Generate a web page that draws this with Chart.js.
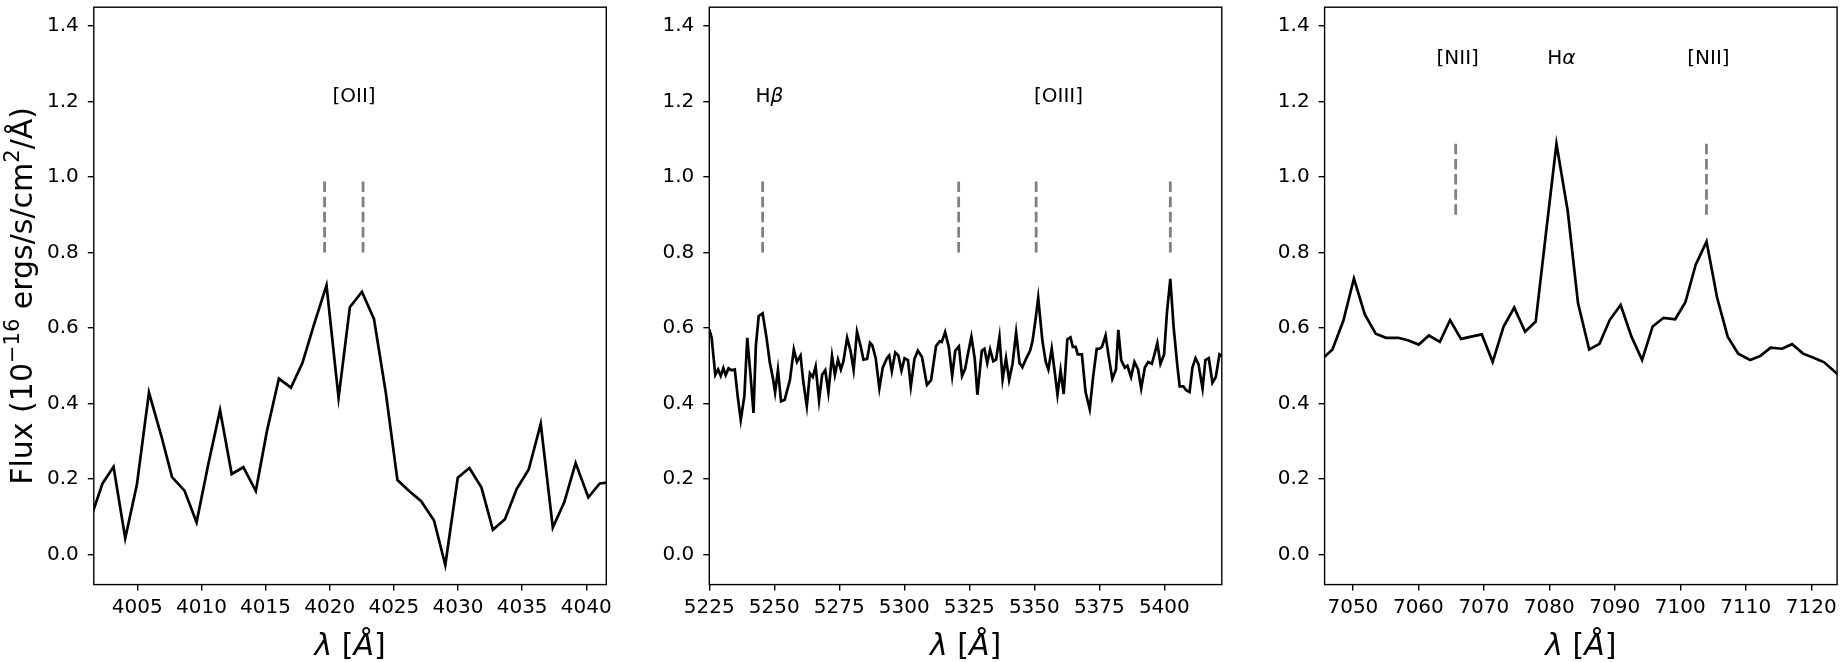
<!DOCTYPE html>
<html>
<head>
<meta charset="utf-8">
<script src="https://cdn.jsdelivr.net/npm/chart.js@4.4.1/dist/chart.umd.min.js"></script>
<style>
  html, body { margin: 0; padding: 0; background: #fff; overflow: hidden; }
  body { width: 1845px; height: 662px; position: relative; }
  canvas { position: absolute; top: -20px; }
</style>
</head>
<body>
<canvas id="c1" width="620" height="682" style="left:0px"></canvas>
<canvas id="c2" width="620" height="682" style="left:615px"></canvas>
<canvas id="c3" width="620" height="682" style="left:1230px"></canvas>
<script>
// ------------------- DATA -------------------
// [OII] region
const lamOII = [4001.37, 4002.29, 4003.15, 4004.06, 4004.97, 4005.91, 4006.85, 4007.71, 4008.68, 4009.62,
  4010.53, 4011.45, 4012.36, 4013.27, 4014.24, 4015.10, 4016.04, 4016.98, 4017.87, 4018.81,
  4019.75, 4020.69, 4021.57, 4022.51, 4023.45, 4024.37, 4025.28, 4026.19, 4027.13, 4028.13,
  4029.01, 4029.98, 4030.89, 4031.83, 4032.72, 4033.66, 4034.57, 4035.51, 4036.45, 4037.39,
  4038.28, 4039.17, 4040.16, 4041.05, 4041.97];
const fluxOII = [0.096, 0.188, 0.232, 0.043, 0.185, 0.429, 0.317, 0.205, 0.169, 0.085,
  0.238, 0.382, 0.213, 0.231, 0.168, 0.326, 0.466, 0.442, 0.507, 0.613,
  0.713, 0.415, 0.655, 0.696, 0.624, 0.429, 0.197, 0.168, 0.141, 0.090,
  -0.028, 0.203, 0.229, 0.177, 0.065, 0.093, 0.173, 0.225, 0.346, 0.071,
  0.138, 0.242, 0.151, 0.188, 0.192];

// H-beta / [OIII] region
const lamHb = [5225.0, 5225.9, 5227.3, 5228.4, 5229.4, 5230.4, 5231.3, 5232.4, 5233.5, 5234.8,
  5235.9, 5237.1, 5238.5, 5239.6, 5240.8, 5242.0, 5242.9, 5244.0, 5245.5, 5247.0,
  5248.3, 5249.4, 5250.3, 5251.4, 5252.6, 5254.0, 5256.0, 5257.5, 5258.7, 5260.1,
  5261.1, 5262.5, 5263.7, 5264.8, 5265.9, 5267.2, 5268.4, 5269.6, 5270.8, 5272.2,
  5273.3, 5274.5, 5275.6, 5276.6, 5278.0, 5279.3, 5280.5, 5281.8, 5283.2, 5284.3,
  5285.7, 5286.8, 5287.7, 5289.0, 5290.4, 5291.7, 5293.4, 5294.2, 5295.2, 5296.5,
  5297.7, 5298.9, 5300.1, 5301.4, 5302.5, 5303.9, 5305.2, 5306.8, 5308.7, 5310.3,
  5312.2, 5313.6, 5314.4, 5315.7, 5317.1, 5318.4, 5319.6, 5321.0, 5322.2, 5323.4,
  5324.4, 5325.8, 5327.1, 5328.1, 5329.8, 5330.8, 5331.9, 5333.0, 5334.2, 5335.3,
  5336.6, 5337.8, 5339.1, 5340.3, 5341.6, 5343.0, 5344.3, 5345.4, 5347.0, 5348.4,
  5349.3, 5350.4, 5351.5, 5353.1, 5354.4, 5355.4, 5356.7, 5358.0, 5358.9, 5360.1,
  5361.3, 5362.7, 5363.9, 5364.8, 5365.9, 5366.7, 5368.3, 5369.7, 5371.3, 5372.6,
  5374.0, 5375.1, 5376.0, 5377.4, 5378.7, 5380.0, 5381.4, 5382.3, 5383.4, 5384.8,
  5385.8, 5387.2, 5388.5, 5389.9, 5391.1, 5392.5, 5393.8, 5395.2, 5396.2, 5397.3,
  5398.5, 5399.9, 5401.0, 5402.3, 5403.6, 5405.0, 5405.9, 5407.3, 5408.4, 5409.7,
  5410.8, 5412.0, 5413.1, 5414.7, 5415.8, 5417.1, 5418.5, 5419.8, 5421.2, 5422.1];
const fluxHb = [0.596, 0.574, 0.476, 0.490, 0.473, 0.494, 0.475, 0.493, 0.488, 0.490,
  0.420, 0.356, 0.420, 0.574, 0.480, 0.375, 0.552, 0.632, 0.639, 0.574,
  0.507, 0.470, 0.429, 0.489, 0.406, 0.410, 0.462, 0.543, 0.510, 0.527,
  0.460, 0.393, 0.480, 0.470, 0.498, 0.408, 0.476, 0.488, 0.429, 0.526,
  0.476, 0.516, 0.490, 0.512, 0.574, 0.540, 0.489, 0.590, 0.552, 0.516,
  0.518, 0.561, 0.554, 0.520, 0.440, 0.495, 0.521, 0.527, 0.485, 0.535,
  0.527, 0.487, 0.520, 0.515, 0.445, 0.518, 0.540, 0.523, 0.449, 0.462,
  0.552, 0.565, 0.563, 0.589, 0.550, 0.473, 0.540, 0.551, 0.473, 0.492,
  0.529, 0.577, 0.518, 0.423, 0.540, 0.545, 0.507, 0.543, 0.512, 0.516,
  0.576, 0.464, 0.520, 0.462, 0.504, 0.588, 0.507, 0.496, 0.521, 0.540,
  0.565, 0.619, 0.680, 0.566, 0.510, 0.490, 0.545, 0.475, 0.423, 0.487,
  0.425, 0.570, 0.575, 0.550, 0.550, 0.530, 0.530, 0.430, 0.385, 0.470,
  0.545, 0.545, 0.550, 0.580, 0.520, 0.465, 0.490, 0.595, 0.515, 0.495,
  0.500, 0.470, 0.510, 0.490, 0.440, 0.495, 0.510, 0.505, 0.530, 0.560,
  0.505, 0.530, 0.640, 0.730, 0.600, 0.500, 0.445, 0.445, 0.435, 0.430,
  0.495, 0.520, 0.505, 0.440, 0.515, 0.520, 0.455, 0.470, 0.530, 0.525];

// H-alpha / [NII] region
const lamHa = [7045.25, 7046.88, 7048.54, 7050.16, 7051.82, 7053.49, 7055.05, 7056.93, 7058.49, 7060.05,
  7061.61, 7063.28, 7064.84, 7066.51, 7068.07, 7069.69, 7071.35, 7073.02, 7074.64, 7076.30,
  7077.92, 7079.58, 7081.09, 7082.81, 7084.38, 7086.09, 7087.66, 7089.22, 7090.89, 7092.55,
  7094.17, 7095.78, 7097.45, 7099.22, 7100.78, 7102.34, 7104.01, 7105.63, 7107.24, 7108.85,
  7110.68, 7112.24, 7113.80, 7115.52, 7117.08, 7118.75, 7120.36, 7121.98, 7124.20];
const fluxHa = [0.517, 0.543, 0.619, 0.731, 0.636, 0.585, 0.574, 0.574, 0.567, 0.556,
  0.580, 0.563, 0.621, 0.571, 0.577, 0.583, 0.510, 0.604, 0.654, 0.590,
  0.617, 0.865, 1.088, 0.910, 0.666, 0.543, 0.558, 0.621, 0.661, 0.577,
  0.515, 0.604, 0.627, 0.623, 0.668, 0.767, 0.829, 0.680, 0.577, 0.532,
  0.515, 0.526, 0.548, 0.545, 0.557, 0.532, 0.521, 0.509, 0.475];

const yTicks = [0.0, 0.2, 0.4, 0.6, 0.8, 1.0, 1.2, 1.4];
const xTicks1 = [4005, 4010, 4015, 4020, 4025, 4030, 4035, 4040];
const xTicks2 = [5225, 5250, 5275, 5300, 5325, 5350, 5375, 5400];
const xTicks3 = [7050, 7060, 7070, 7080, 7090, 7100, 7110, 7120];

// line markers (dashed) and line names
const markers1 = [4019.6, 4022.6];
const markers2 = [5245.5, 5320.9, 5350.7, 5402.3];
const markers3 = [7065.7, 7104.0];
const names1 = ['[OII]'];
const namePos1 = [4021.9];
const names2 = ['Hβ', '[OIII]'];
const namePos2 = [5248.1, 5359.3];
const names3 = ['[NII]', 'Hα', '[NII]'];
const namePos3 = [7066.0, 7081.85, 7104.3];


// ------------------- PLUGINS -------------------
const FONT = "'DejaVu Sans', sans-serif";

// draw a run of text pieces: [text, italic?, sizeFactor, rise]
function drawRuns(ctx, runs, size, x, y) {
    runs.forEach(r => {
        r.font = (r[1] ? 'italic ' : '') + (size * r[2]) + 'px ' + FONT;
        ctx.font = r.font;
        r.w = ctx.measureText(r[0]).width;
    });
    const total = runs.reduce((s, r) => s + r.w, 0);
    let cx = x - total / 2;
    runs.forEach(r => {
        ctx.font = r.font;
        ctx.fillText(r[0], cx, y - r[3] * size);
        cx += r.w;
    });
}

const framePlugin = {
    id: 'frame',
    afterDraw(chart, args, opts) {
        const a = chart.chartArea;
        const ctx = chart.ctx;
        ctx.save();
        ctx.strokeStyle = '#000';
        ctx.lineWidth = 1.4;
        ctx.strokeRect(a.left, a.top, a.right - a.left, a.bottom - a.top);

        // axis titles (mathtext-like)
        ctx.fillStyle = '#000';
        ctx.textAlign = 'left';
        ctx.textBaseline = 'alphabetic';
        drawRuns(ctx, [['λ', true, 1, 0], [' [', false, 1, 0], ['Å', true, 1, 0], [']', false, 1, 0]],
            30, (a.left + a.right) / 2, 674.5);
        if (opts.yTitle) {
            ctx.translate(31.5, (a.top + a.bottom) / 2);
            ctx.rotate(-Math.PI / 2);
            drawRuns(ctx, [
                ['Flux (10', false, 1, 0], ['−16', false, 0.7, 0.42], [' ergs/s/cm', false, 1, 0],
                ['2', false, 0.7, 0.42], ['/Å)', false, 1, 0]
            ], 30, 0, 0);
        }
        ctx.restore();
    }
};

const namesPlugin = {
    id: 'lineNames',
    afterDatasetsDraw(chart, args, opts) {
        const ctx = chart.ctx;
        const xs = chart.scales.x, ys = chart.scales.y;
        ctx.save();
        ctx.fillStyle = '#000';
        ctx.textAlign = 'left';
        ctx.textBaseline = 'alphabetic';
        opts.names.forEach((name, i) => {
            // greek letters in italic, like mathtext
            const runs = Array.from(name).map(ch => [ch, /[α-ω]/.test(ch), 1, 0]);
            drawRuns(ctx, runs, 20, xs.getPixelForValue(opts.pos[i]), ys.getPixelForValue(opts.y));
        });
        ctx.restore();
    }
};


// ------------------- PANEL SETUP -------------------
function makePanel(id, lam, flux, xMin, xMax, xTicks, markers, mLo, mHi, names, namePos, nameY, yWidth, showTitle) {
    const datasets = [{
        data: lam.map((l, i) => ({x: l, y: flux[i]})),
        borderColor: '#000',
        borderWidth: 2.7,
        pointRadius: 0,
        tension: 0,
        clip: 0
    }];
    markers.forEach(m => {
        datasets.push({
            data: [{x: m, y: mLo}, {x: m, y: mHi}],
            borderColor: '#808080',
            borderWidth: 2.8,
            borderDash: [10.5, 4.6],
            borderCapStyle: 'butt',
            pointRadius: 0
        });
    });

    new Chart(document.getElementById(id), {
        type: 'line',
        data: {datasets},
        options: {
            responsive: false,
            animation: false,
            events: [],
            layout: {padding: {left: 0, right: 620 - yWidth - 512.5, top: 27.2, bottom: 0}},
            plugins: {
                legend: {display: false},
                tooltip: {enabled: false},
                lineNames: {names, pos: namePos, y: nameY},
                frame: {yTitle: showTitle}
            },
            scales: {
                x: {
                    type: 'linear',
                    min: xMin,
                    max: xMax,
                    afterBuildTicks: s => { s.ticks = xTicks.map(v => ({value: v})); },
                    afterFit: s => { s.height = 682 - 27.2 - 577.4; },
                    grid: {drawOnChartArea: false, drawTicks: true, tickLength: 6, color: '#000', lineWidth: 1.4},
                    border: {display: false},
                    ticks: {color: '#000', font: {family: FONT, size: 20}, padding: 5, maxRotation: 0,
                        callback: v => String(v)}
                },
                y: {
                    type: 'linear',
                    min: -0.08,
                    max: 1.45,
                    afterBuildTicks: s => { s.ticks = yTicks.map(v => ({value: v})); },
                    afterFit: s => { s.width = yWidth; },
                    grid: {drawOnChartArea: false, drawTicks: true, tickLength: 6, color: '#000', lineWidth: 1.4},
                    border: {display: false},
                    ticks: {color: '#000', font: {family: FONT, size: 20}, padding: 9,
                        callback: v => v.toFixed(1)}
                }
            }
        },
        plugins: [framePlugin, namesPlugin]
    });
}

makePanel('c1', lamOII, fluxOII, 4001.61, 4041.56, xTicks1, markers1, 0.8, 1.0, names1, namePos1, 1.2, 93.8, true);
makePanel('c2', lamHb, fluxHb, 5225.0, 5422.1, xTicks2, markers2, 0.8, 1.0, names2, namePos2, 1.2, 94.3, false);
makePanel('c3', lamHa, fluxHa, 7045.68, 7123.95, xTicks3, markers3, 0.9, 1.1, names3, namePos3, 1.3, 94.6, false);
</script>
</body>
</html>
